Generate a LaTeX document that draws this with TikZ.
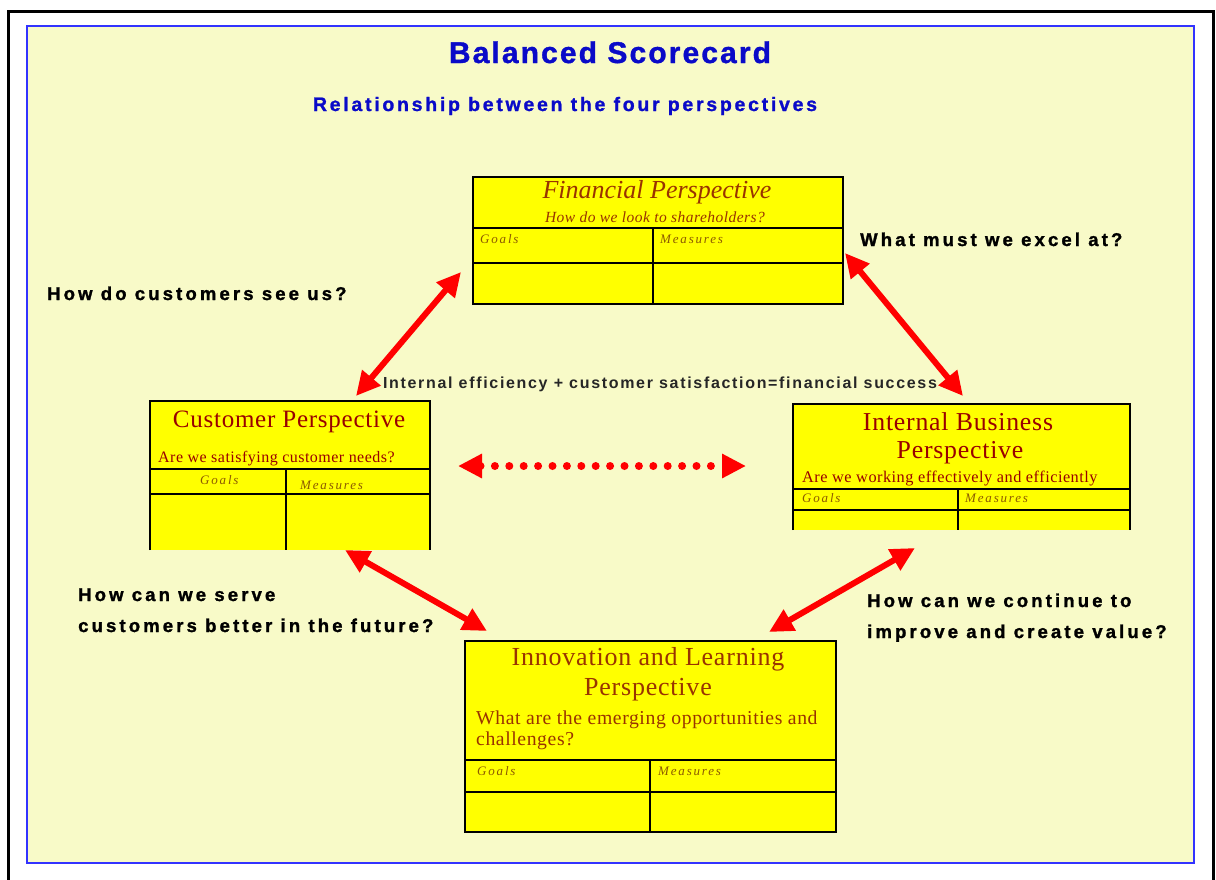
\documentclass[tikz,border=0pt]{standalone}
\usepackage{fontspec}
\setmainfont{Liberation Serif}
\newfontfamily\headsans[LetterSpace=7, BoldFeatures={FakeBold=1.2}]{Liberation Sans}
\newfontfamily\subsans[LetterSpace=14, BoldFeatures={FakeBold=1.2}]{Liberation Sans}
\newfontfamily\asksans[LetterSpace=17, BoldFeatures={FakeBold=1.5}]{Liberation Sans}
\newfontfamily\notesans[LetterSpace=10.5]{Liberation Sans}
\newfontfamily\boxserif[LetterSpace=3]{Liberation Serif}
\newfontfamily\cellserif[LetterSpace=14]{Liberation Serif}
\usetikzlibrary{arrows.meta}

\newcommand\setfs[1]{\fontsize{#1}{#1}\selectfont}

\definecolor{paper}{RGB}{248,250,200}
\definecolor{frameblue}{RGB}{51,51,255}
\definecolor{titleblue}{RGB}{10,10,200}
\definecolor{boxred}{RGB}{153,0,0}
\definecolor{boxbrown}{RGB}{153,51,0}
\definecolor{cellolive}{RGB}{140,90,0}
\definecolor{boxyellow}{RGB}{255,255,0}

\tikzset{
  panel/.style={fill=boxyellow, draw=black, line width=1.6pt, inner sep=0pt, anchor=north west},
  openpanel/.style={fill=boxyellow, inner sep=0pt, anchor=north west},
  rule/.style={draw=black, line width=1.6pt},
  headtext/.style={font=\boxserif\setfs{#1}, text=boxred, anchor=base, inner sep=0pt},
  subtext/.style={font=\boxserif\setfs{#1}, text=boxred, anchor=base west, inner sep=0pt},
  celltext/.style={font=\cellserif\itshape\setfs{13}, text=cellolive, anchor=base west, inner sep=0pt},
  ask/.style={font=\asksans\bfseries\setfs{18.5}, text=black, anchor=base west, inner sep=0pt},
  link/.style={draw=red, line width=6pt, {Triangle[length=24pt,width=23pt]}-{Triangle[length=24pt,width=23pt]}},
  dotlink/.style={link, line width=8pt, line cap=round, dash pattern=on 0pt off 14.4pt}
}

\begin{document}
\begin{tikzpicture}[x=1pt,y=-1pt]
\clip (0,0) rectangle (1216,879);
\fill[white] (0,0) rectangle (1216,879);

% page frame and sheet
\draw[black, line width=3pt] (8,890) -- (8,11) -- (1213,11) -- (1213,890);
\draw[frameblue, line width=2.5pt, fill=paper] (27,26) rectangle (1194,863);

% headings
\node[font=\headsans\bfseries\setfs{30}, text=titleblue, anchor=base, inner sep=0pt] (title) at (610,63) {Balanced Scorecard};
\node[font=\subsans\bfseries\setfs{19.5}, text=titleblue, anchor=base, inner sep=0pt] (subtitle) at (565,111) {Relationship between the four perspectives};

% ---- Financial perspective
\node[panel, minimum width=370pt, minimum height=127pt] (fin) at (472,176) {};
\draw[rule] (472,228) -- (842,228);
\draw[rule] (472,263) -- (842,263);
\draw[rule] (653,228) -- (653,303);
\node[font=\rmfamily\itshape\setfs{26}, text=boxbrown, anchor=base, inner sep=0pt] (fin-t) at (657,198) {Financial Perspective};
\node[font=\boxserif\itshape\setfs{15.5}, text=boxbrown, anchor=base, inner sep=0pt] (fin-q) at (655,222) {How do we look to shareholders?};
\node[celltext] (fin-g) at (480,243) {Goals};
\node[celltext] (fin-m) at (660,243) {Measures};

% ---- Customer perspective (open at the bottom)
\node[openpanel, minimum width=280pt, minimum height=149pt] (cust) at (150,401) {};
\draw[rule] (150,550) -- (150,401) -- (430,401) -- (430,550);
\draw[rule] (150,469) -- (430,469);
\draw[rule] (150,494) -- (430,494);
\draw[rule] (286,469) -- (286,550);
\node[headtext=25] (cust-t) at (289,427) {Customer Perspective};
\node[subtext=16] (cust-q) at (158,462) {Are we satisfying customer needs?};
\node[celltext] (cust-g) at (200,484) {Goals};
\node[celltext] (cust-m) at (300,489) {Measures};

% ---- Internal business perspective (open at the bottom)
\node[openpanel, minimum width=337pt, minimum height=126pt] (int) at (793,404) {};
\draw[rule] (793,530) -- (793,404) -- (1130,404) -- (1130,530);
\draw[rule] (793,489) -- (1130,489);
\draw[rule] (793,510) -- (1130,510);
\draw[rule] (958,489) -- (958,530);
\node[headtext=25.8] (int-t1) at (958,430) {Internal Business};
\node[headtext=25.8] (int-t2) at (960,458) {Perspective};
\node[subtext=16.3] (int-q) at (802,482) {Are we working effectively and efficiently};
\node[celltext] (int-g) at (802,502) {Goals};
\node[celltext] (int-m) at (965,502) {Measures};

% ---- Innovation and learning perspective
\node[panel, minimum width=371pt, minimum height=191pt] (inn) at (464,640) {};
\draw[rule] (464,760) -- (835,760);
\draw[rule] (464,792) -- (835,792);
\draw[rule] (650,760) -- (650,831);
\node[headtext=26, text=boxbrown] (inn-t1) at (648,665) {Innovation and Learning};
\node[headtext=26, text=boxbrown] (inn-t2) at (648,695) {Perspective};
\node[subtext=19.7, text=boxbrown] (inn-q1) at (476,724) {What are the emerging opportunities and};
\node[subtext=19.7, text=boxbrown] (inn-q2) at (476,745) {challenges?};
\node[celltext] (inn-g) at (477,775) {Goals};
\node[celltext] (inn-m) at (658,775) {Measures};

% questions along the links
\node[ask] (q-cust) at (47,300) {How do customers see us?};
\node[ask] (q-int) at (860,246) {What must we excel at?};
\node[ask] (q-fut1) at (78,601) {How can we serve};
\node[ask] (q-fut2) at (78,632) {customers better in the future?};
\node[ask] (q-val1) at (867,607) {How can we continue to};
\node[ask] (q-val2) at (867,638) {improve and create value?};
\node[font=\notesans\bfseries\setfs{16}, text=black!85, anchor=base, inner sep=0pt] (eq) at (660,388) {Internal efficiency + customer satisfaction=financial success};

% link end points
\coordinate (cf-a) at (356,396);
\coordinate (cf-b) at (461,272);
\coordinate (fi-a) at (845,253);
\coordinate (fi-b) at (963,396);
\coordinate (ci-a) at (345,550);
\coordinate (ci-b) at (487,631);
\coordinate (ii-a) at (915,548);
\coordinate (ii-b) at (769,632);
\coordinate (cu-r) at (458,466);
\coordinate (in-l) at (746,466);

% links between the perspectives
\draw[link] (cf-a) -- (cf-b);
\draw[link] (fi-a) -- (fi-b);
\draw[link] (ci-a) -- (ci-b);
\draw[link] (ii-a) -- (ii-b);
\draw[dotlink] (cu-r) -- (in-l);
\end{tikzpicture}
\end{document}
